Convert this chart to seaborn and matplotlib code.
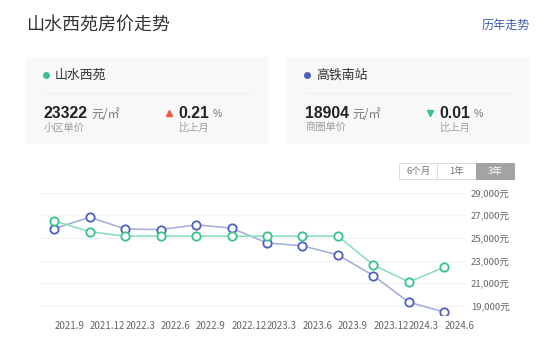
import matplotlib
matplotlib.use("Agg")
import matplotlib.pyplot as plt
import seaborn as sns
import pandas as pd
from matplotlib.patches import Rectangle

# ---- data ----
months = ['2021.9', '2021.12', '2022.3', '2022.6', '2022.9', '2022.12',
          '2023.3', '2023.6', '2023.9', '2023.12', '2024.3', '2024.6']
community_prices = [26500, 25550, 25150, 25150, 25150, 25150,
                    25150, 25150, 25150, 22620, 21120, 22420]
district_prices = [25820, 26820, 25790, 25730, 26150, 25860,
                   24560, 24300, 23500, 21680, 19330, 18470]
y_ticks = [19000, 21000, 23000, 25000, 27000, 29000]
y_tick_labels = ['19,000元', '21,000元', '23,000元', '25,000元', '27,000元', '29,000元']
title = '山水西苑房价走势'
link_text = '历年走势'
community_name = '山水西苑'
district_name = '高铁南站'
community_price_text = '23322'
district_price_text = '18904'
community_change = '0.21'
district_change = '0.01'
range_buttons = ['6个月', '1年', '3年']

sns.set_theme(style='white')
CJK = ['Noto Sans CJK SC', 'DejaVu Sans']
NUM = ['Liberation Sans', 'DejaVu Sans']
plt.rcParams['font.family'] = CJK

W, H = 554, 344
fig = plt.figure(figsize=(W / 100, H / 100), dpi=100)
fig.patch.set_facecolor('white')

# main chart axes (pixel layout)
L, R, T, B = 40, 465, 185, 315
ax = fig.add_axes([L / W, 1 - B / H, (R - L) / W, (B - T) / H])
ppk = 11.35  # pixels per 1000
ax.set_ylim(19000 - (B - 306) * 1000 / ppk, 29000 + (192.5 - T) * 1000 / ppk)
ax.set_xlim(-0.403, 11.585)

df = pd.DataFrame({'idx': list(range(len(months))) * 2,
                   'price': district_prices + community_prices,
                   'series': [district_name] * len(months) + [community_name] * len(months)})

GREEN_M, GREEN_L = '#36c48b', '#8ddfbd'
BLUE_M, BLUE_L = '#4d5fc0', '#a9b0dd'

sns.lineplot(data=df[df.series == district_name], x='idx', y='price', ax=ax,
             color=BLUE_L, lw=1.2, marker='o', markersize=6,
             markerfacecolor='white', markeredgecolor=BLUE_M, markeredgewidth=1.3,
             zorder=3, legend=False)
sns.lineplot(data=df[df.series == community_name], x='idx', y='price', ax=ax,
             color=GREEN_L, lw=1.2, marker='o', markersize=6,
             markerfacecolor='white', markeredgecolor=GREEN_M, markeredgewidth=1.3,
             zorder=4, legend=False)

for yv in y_ticks:
    ax.axhline(yv, color='#f1f3f5', lw=0.9, zorder=1)
for s in ax.spines.values():
    s.set_visible(False)
ax.set_xlabel('')
ax.set_ylabel('')
ax.set_yticks(y_ticks)
ax.set_yticklabels(y_tick_labels)
ax.yaxis.tick_right()
ax.tick_params(axis='y', length=0, pad=4.3, labelsize=6.9, labelcolor='#666666',
               labelright=True, labelleft=False)
ax.set_xticks(range(len(months)))
ax.set_xticklabels(months, ha='left')
ax.tick_params(axis='x', length=0, pad=4.0, labelsize=7.0, labelcolor='#666666')
ax.grid(False)
ax.set_facecolor('none')

# overlay axes in pixel coordinates
ov = fig.add_axes([0, 0, 1, 1], zorder=-1)
ov.set_xlim(0, W)
ov.set_ylim(H, 0)
ov.axis('off')

ov.text(26, 25, title, fontsize=13, color='#333333', va='center', ha='left')
ov.text(530, 25, link_text, fontsize=8.7, color='#3d5cb8', va='center', ha='right')

def card(x0, x1, dot_color, name, price, change, up, sub):
    ov.add_patch(Rectangle((x0, 57), x1 - x0, 87, facecolor='#f8f8f8', edgecolor='none'))
    ov.plot([x0 + 20], [75], marker='o', markersize=4.0, color=dot_color, lw=0)
    ov.text(x0 + 29, 75.5, name, fontsize=9.3, color='#333333', va='center', ha='left')
    ov.plot([x0 + 19, x1 - 18], [92.7, 92.7], color='#efefef', lw=0.8)
    ov.text(x0 + 18, 113.5, price, fontsize=11.3, fontweight='bold', family=NUM,
            color='#222222', va='center', ha='left')
    ov.text(x0 + 65, 114, '元/㎡', fontsize=8.6, color='#777777', va='center', ha='left',
            family=CJK)
    ov.text(x0 + 18, 128, sub, fontsize=7.4, color='#a0a0a0', va='center', ha='left')
    tx = x0 + 143
    ov.plot([tx], [112.5], marker='^' if up else 'v', markersize=4.5, lw=0,
            color='#ef5747' if up else '#36c48b')
    ov.text(tx + 9, 113.5, change, fontsize=11.3, fontweight='bold', family=NUM,
            color='#222222', va='center', ha='left')
    ov.text(tx + 43.5, 114, '%', fontsize=7.6, color='#777777', va='center', ha='left',
            family=NUM)
    ov.text(tx + 9, 128, '比上月', fontsize=7.4, color='#a0a0a0', va='center', ha='left')

card(26, 268, GREEN_M, community_name, community_price_text, community_change, True, '小区单价')
card(287, 529, BLUE_M, district_name, district_price_text, district_change, False, '商圈单价')

# range buttons
edges = [399.3, 437.3, 476, 514.3]
for i, lab in enumerate(range_buttons):
    sel = i == 2
    ov.add_patch(Rectangle((edges[i], 163.3), edges[i + 1] - edges[i], 16,
                           facecolor='#a3a3a3' if sel else 'white',
                           edgecolor='#a3a3a3' if sel else '#dddddd', lw=0.7))
    ov.text((edges[i] + edges[i + 1]) / 2, 171.5, lab, fontsize=6.8,
            color='white' if sel else '#777777', va='center', ha='center')

fig.savefig('out.png', dpi=100)
